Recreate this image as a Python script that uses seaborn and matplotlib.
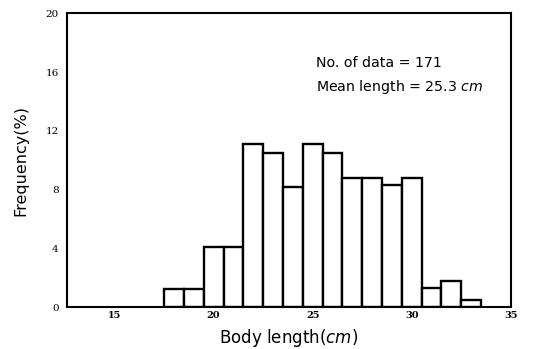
import matplotlib
matplotlib.use("Agg")
import matplotlib.pyplot as plt
import seaborn as sns

# Body-length classes (cm, bin centres) and their relative frequency (%)
body_length = [18, 19, 20, 21, 22, 23, 24, 25, 26, 27, 28, 29, 30, 31, 32, 33]
frequency = [1.2, 1.2, 4.1, 4.1, 11.1, 10.5, 8.2, 11.1, 10.5, 8.8, 8.8, 8.3, 8.8, 1.3, 1.8, 0.5]

x_ticks = [15, 20, 25, 30, 35]
y_ticks = [0, 4, 8, 12, 16, 20]

n_data = 171
mean_length = 25.3

sns.set_style("white")
plt.rcParams["font.family"] = ["DejaVu Sans"]
plt.rcParams["text.color"] = "black"
plt.rcParams["axes.labelcolor"] = "black"
plt.rcParams["xtick.color"] = "black"
plt.rcParams["ytick.color"] = "black"

fig = plt.figure(figsize=(5.36, 3.49), dpi=100)
ax = fig.add_axes([0.125, 0.120, 0.828, 0.842])

sns.histplot(x=body_length, weights=frequency, discrete=True,
             color="white", edgecolor="black", linewidth=1.7, alpha=1,
             ax=ax)

ax.set_xlim(12.6, 35)
ax.set_ylim(0, 20)
ax.set_xticks(x_ticks)
ax.set_yticks(y_ticks)
ax.set_xticklabels([str(t) for t in x_ticks], family="DejaVu Serif",
                   fontsize=7, fontweight="bold")
ax.set_yticklabels([str(t) for t in y_ticks], family="DejaVu Serif",
                   fontsize=7.5)
ax.tick_params(axis="x", direction="in", length=6, width=1.2, pad=3)
ax.tick_params(axis="y", direction="out", length=3, width=1.2, pad=3)

for s in ax.spines.values():
    s.set_visible(True)
    s.set_color("black")
    s.set_linewidth(1.5)

ax.set_xlabel(r"Body length($\mathit{cm}$)", fontsize=12, labelpad=5)
ax.set_ylabel("Frequency(%)", fontsize=11.5, labelpad=12)

ax.text(25.15, 16.6, f"No. of data = {n_data}", fontsize=10.2, va="center")
ax.text(25.15, 15.0, f"Mean length = {mean_length} " + r"$\mathit{cm}$",
        fontsize=10.2, va="center")

fig.savefig("out.png", dpi=100, facecolor="white")
